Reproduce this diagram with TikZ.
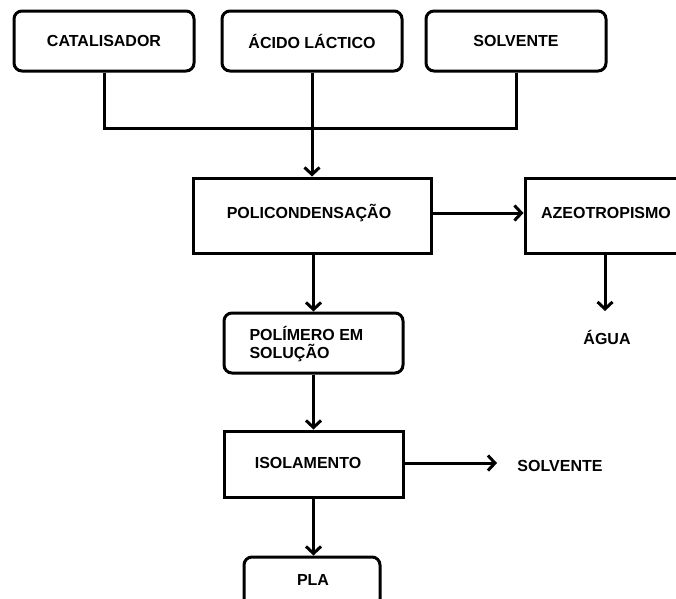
\documentclass[tikz,border=0pt]{standalone}
\usepackage{fontspec}
\setmainfont{Liberation Sans}
\usetikzlibrary{arrows.meta}
\begin{document}
\begin{tikzpicture}[x=1pt,y=-1pt,line width=3pt,
  txt/.style={font=\fontsize{16}{18.5}\selectfont\bfseries,inner sep=0pt},
  rbox/.style={draw,line width=3pt,rounded corners=8pt,minimum width=180pt,minimum height=60pt,inner sep=0pt,txt},
  sbox/.style={draw,line width=3pt,minimum height=75pt,inner sep=0pt,txt},
  conn/.style={line width=3pt},
  arr/.style={conn,-{Straight Barb[length=7pt,width=15pt]}}]
\useasboundingbox (0,0) rectangle (676,598);
\clip (0,0) rectangle (676,598);
\node[rbox] (cat) at (104,41) {CATALISADOR};
\node[rbox] (acido) at (312,41) {ÁCIDO LÁCTICO};
\node[rbox] (solv) at (516,41) {SOLVENTE};
\coordinate (j) at (312,128);
\draw[conn] (cat.south) |- (j);
\draw[conn] (solv.south) |- (j);
\node[sbox,minimum width=238pt] (poli) at (312,215.5) {};
\node[txt] (politxt) at (309,213) {POLICONDENSAÇÃO};
\draw[arr] (acido.south) -- (poli.north);
\node[sbox,minimum width=160pt] (azeo) at (605,215.5) {};
\node[txt] (azeotxt) at (606,213) {AZEOTROPISMO};
\draw[arr] (poli.east |- 0,213) -- (azeo.west |- 0,213);
\coordinate (aguatip) at (605,311);
\draw[arr] (azeo.south) -- (aguatip);
\node[txt] (agua) at (607,337) {ÁGUA};
\node[rbox,minimum width=179pt] (polim) at (313.5,343) {};
\node[txt,anchor=west,align=left] (polimtxt) at (248,344) {POLÍMERO EM\\SOLUÇÃO};
\draw[arr] (poli.south -| 313.5,0) -- (polim.north);
\node[draw,line width=3pt,minimum width=179pt,minimum height=66pt,inner sep=0pt] (iso) at (313.5,464) {};
\node[txt] (isotxt) at (308,463) {ISOLAMENTO};
\draw[arr] (polim.south) -- (iso.north);
\coordinate (solvtip) at (497,463);
\draw[arr] (iso.east |- solvtip) -- (solvtip);
\node[txt] (solv2) at (560,466) {SOLVENTE};
\node[rbox,minimum width=136pt,minimum height=50pt] (pla) at (312,582) {};
\node[txt] (platxt) at (313,580) {PLA};
\draw[arr] (iso.south) -- (iso.south |- pla.north);
\end{tikzpicture}
\end{document}
